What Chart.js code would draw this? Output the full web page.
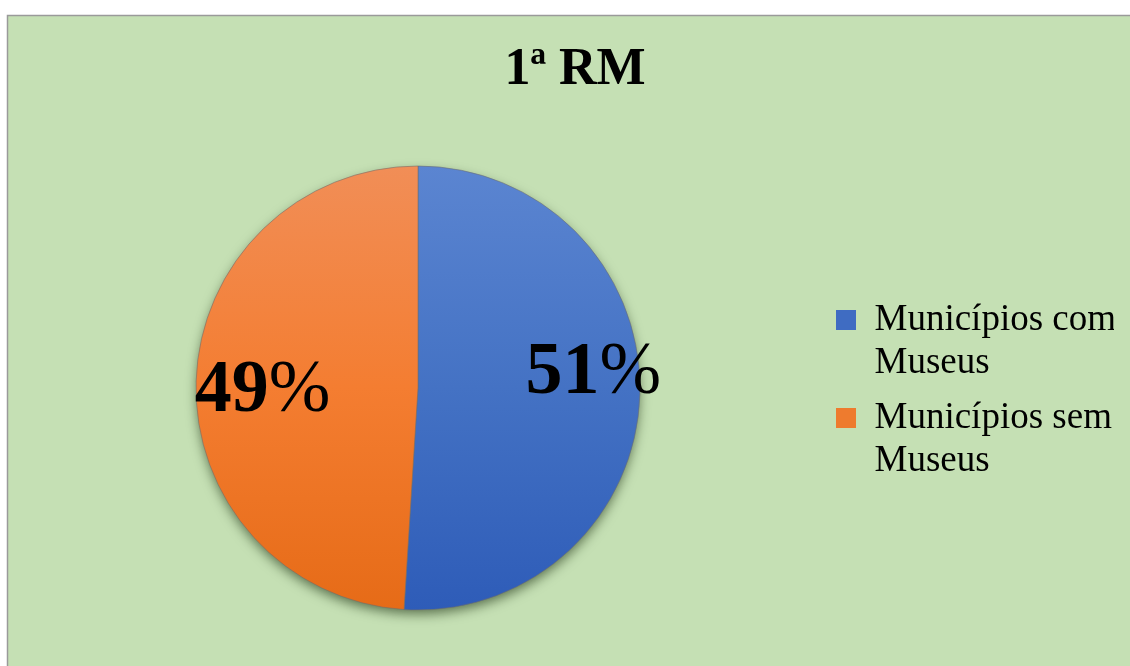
<!DOCTYPE html>
<html>
<head>
<meta charset="utf-8">
<script src="https://cdn.jsdelivr.net/npm/chart.js@4.4.1/dist/chart.umd.min.js"></script>
<style>
  html, body { margin: 0; padding: 0; background: #fff; }
  #wrap { width: 1130px; height: 666px; }
</style>
</head>
<body>
<div id="wrap"><canvas id="pieChart"></canvas></div>
<script>
const chartTitle = '1ª RM';
const categories = [['Municípios com', 'Museus'], ['Municípios sem', 'Museus']];
const shares = [51, 49];

// slice colours (top / middle / bottom of the gradient) and legend swatches
const gradTop = ['#5B85D1', '#F18E57'];
const gradMid = ['#4472C4', '#F47D31'];
const gradBottom = ['#2E5CB8', '#E66B17'];
const legendColors = ['#3F6CC2', '#EE7B2E'];

// where the percentage text sits, relative to the slice
const labelRadius = [0.79, 0.70];
const labelShift = [-26, 3];

const serif = '"Liberation Serif", "Times New Roman", serif';

function sliceGradient(context) {
    const chart = context.chart;
    const area = chart.chartArea;
    if (!area) return gradMid[context.dataIndex];
    const i = context.dataIndex;
    const g = chart.ctx.createLinearGradient(0, area.top, 0, area.bottom);
    g.addColorStop(0, gradTop[i]);
    g.addColorStop(0.5, gradMid[i]);
    g.addColorStop(1, gradBottom[i]);
    return g;
}

const decorPlugin = {
    id: 'decor',
    beforeDraw(chart) {
        const ctx = chart.ctx;
        const w = chart.width, h = chart.height;
        ctx.save();
        ctx.fillStyle = '#fff';
        ctx.fillRect(0, 0, w, h);
        ctx.fillStyle = '#C5E0B4';
        ctx.fillRect(8, 16, w, h);
        ctx.strokeStyle = '#9a9a9a';
        ctx.lineWidth = 1.5;
        ctx.beginPath();
        ctx.moveTo(7.5, h);
        ctx.lineTo(7.5, 15.5);
        ctx.lineTo(w, 15.5);
        ctx.stroke();
        ctx.restore();
    },
    beforeDatasetsDraw(chart) {
        // soft drop shadow under the pie
        const arc = chart.getDatasetMeta(0).data[0];
        if (!arc) return;
        const ctx = chart.ctx;
        ctx.save();
        ctx.shadowColor = 'rgba(20, 40, 10, 0.6)';
        ctx.shadowBlur = 12;
        ctx.shadowOffsetY = 5;
        ctx.fillStyle = '#4472C4';
        ctx.beginPath();
        ctx.arc(arc.x, arc.y, arc.outerRadius - 1, 0, Math.PI * 2);
        ctx.fill();
        ctx.restore();
    },
    afterDatasetsDraw(chart) {
        const ctx = chart.ctx;
        const meta = chart.getDatasetMeta(0);
        const total = shares.reduce((a, b) => a + b, 0);
        const size = 74;
        ctx.save();
        ctx.fillStyle = '#000';
        ctx.textBaseline = 'alphabetic';
        ctx.textAlign = 'left';
        meta.data.forEach((arc, i) => {
            const mid = (arc.startAngle + arc.endAngle) / 2;
            const r = arc.outerRadius * labelRadius[i];
            const cx = arc.x + Math.cos(mid) * r;
            const cy = arc.y + Math.sin(mid) * r + labelShift[i];
            const num = String(Math.round(shares[i] / total * 100));
            ctx.font = 'bold ' + size + 'px ' + serif;
            const wNum = ctx.measureText(num).width;
            ctx.font = size + 'px ' + serif;
            const wPct = ctx.measureText('%').width;
            const x = cx - (wNum + wPct) / 2;
            const base = cy + size * 0.338;
            ctx.font = 'bold ' + size + 'px ' + serif;
            ctx.fillText(num, x, base);
            ctx.font = size + 'px ' + serif;
            ctx.fillText('%', x + wNum, base);
        });
        ctx.restore();
    },
    afterDraw(chart) {
        const ctx = chart.ctx;
        ctx.save();
        ctx.fillStyle = '#000';
        ctx.font = 'bold 52px ' + serif;
        ctx.textAlign = 'center';
        ctx.textBaseline = 'alphabetic';
        ctx.fillText(chartTitle, 575, 84);
        ctx.restore();
    }
};

const pieCtx = document.getElementById('pieChart').getContext('2d');

const pieChart = new Chart(pieCtx, {
    type: 'pie',
    data: {
        labels: categories,
        datasets: [{
            data: shares,
            backgroundColor: sliceGradient,
            borderColor: 'rgba(110, 110, 110, 0.55)',
            borderWidth: 1
        }]
    },
    options: {
        responsive: true,
        maintainAspectRatio: false,
        animation: false,
        layout: {
            padding: { left: 12, right: 16, top: 165.5, bottom: 55.5 }
        },
        plugins: {
            title: { display: false },
            tooltip: { enabled: false },
            legend: {
                position: 'right',
                maxWidth: 290,
                // empty legend title, only used to push the items down a little
                title: { display: true, text: ' ', padding: 0, font: { size: 11, lineHeight: 1 } },
                labels: {
                    boxWidth: 20,
                    boxHeight: 20,
                    padding: 12,
                    color: '#000',
                    font: { family: serif, size: 37, lineHeight: 1.162 },
                    generateLabels(chart) {
                        const items = Chart.overrides.pie.plugins.legend.labels.generateLabels(chart);
                        items.forEach((item, i) => {
                            item.fillStyle = legendColors[i];
                            item.strokeStyle = legendColors[i];
                            item.lineWidth = 0;
                        });
                        return items;
                    }
                }
            }
        }
    },
    plugins: [decorPlugin]
});
</script>
</body>
</html>
